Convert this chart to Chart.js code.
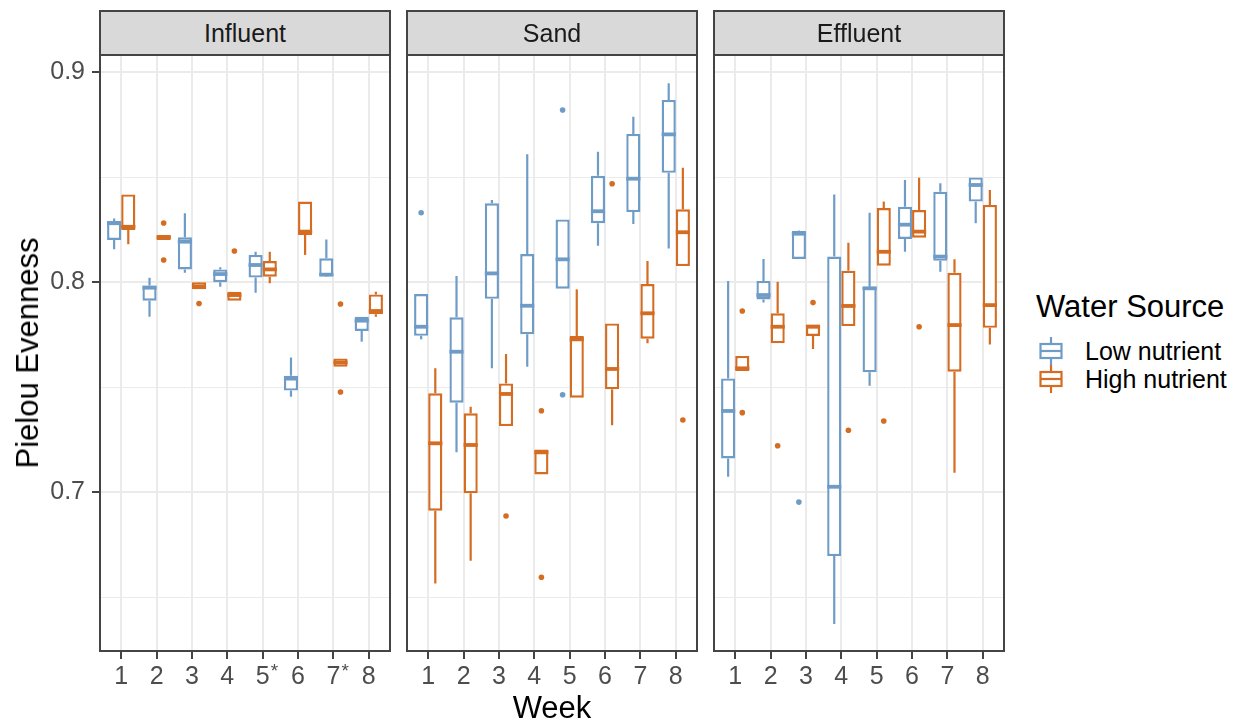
<!DOCTYPE html>
<html>
<head>
<meta charset="utf-8">
<script src="https://cdn.jsdelivr.net/npm/chart.js@4.4.1/dist/chart.umd.min.js"></script>
<style>
  body { margin: 0; background: #fff; }
  #wrap { position: relative; width: 1241px; height: 721px; font-family: "Liberation Sans", Arial, sans-serif; }
  canvas { position: absolute; top: 0; }
  .strip { position: absolute; top: 10px; height: 46px; box-sizing: border-box; border: 2px solid #444;
           background: #D9D9D9; color: #1A1A1A; font-size: 25px; line-height: 42px; text-align: center; }
  .lbl { position: absolute; white-space: nowrap; color: #000; }
</style>
</head>
<body>
<div id="wrap">
  <canvas id="cInfluent" width="392" height="721" style="left:0px"></canvas>
  <canvas id="cSand" width="294" height="721" style="left:405px"></canvas>
  <canvas id="cEffluent" width="294" height="721" style="left:712px"></canvas>

  <div class="strip" style="left:99px; width:292px">Influent</div>
  <div class="strip" style="left:406px; width:292px">Sand</div>
  <div class="strip" style="left:713px; width:292px">Effluent</div>

  <div class="lbl" style="left:28px; top:353px; font-size:31px; transform:translate(-50%,-50%) rotate(-90deg)">Pielou Evenness</div>
  <div class="lbl" style="left:552px; top:692px; font-size:31px; line-height:31px; transform:translateX(-50%)">Week</div>

  <!-- legend -->
  <div class="lbl" style="left:1036px; top:291px; font-size:31px; line-height:31px">Water Source</div>
  <svg style="position:absolute; left:1036px; top:337px" width="30" height="28">
    <g stroke="#6F9CC7" stroke-width="2.2" fill="#fff">
      <line x1="15" y1="0" x2="15" y2="7"/><line x1="15" y1="21" x2="15" y2="28"/>
      <rect x="4.5" y="7" width="21" height="14"/><line x1="4.5" y1="14" x2="25.5" y2="14"/>
    </g>
  </svg>
  <svg style="position:absolute; left:1036px; top:365px" width="30" height="28">
    <g stroke="#D46C22" stroke-width="2.2" fill="#fff">
      <line x1="15" y1="0" x2="15" y2="7"/><line x1="15" y1="21" x2="15" y2="28"/>
      <rect x="4.5" y="7" width="21" height="14"/><line x1="4.5" y1="14" x2="25.5" y2="14"/>
    </g>
  </svg>
  <div class="lbl" style="left:1085px; top:339px; font-size:25px; line-height:25px">Low nutrient</div>
  <div class="lbl" style="left:1085px; top:367px; font-size:25px; line-height:25px">High nutrient</div>
</div>

<script>
// weeks on the x axis; weeks 5 and 7 of the influent panel carry an asterisk
const weeks = [1, 2, 3, 4, 5, 6, 7, 8]
const influentStarred = [5, 7]

// box stats per week: [lower whisker, q1, median, q3, upper whisker]
const influentLow = [
  [0.8156, 0.8200, 0.8280, 0.8290, 0.8303],
  [0.7835, 0.7911, 0.7973, 0.7983, 0.8020],
  [0.8044, 0.8060, 0.8192, 0.8213, 0.8327],
  [0.7978, 0.7999, 0.8038, 0.8060, 0.8070],
  [0.7949, 0.8021, 0.8081, 0.8129, 0.8144],
  [0.7454, 0.7483, 0.7540, 0.7554, 0.7641],
  [0.8025, 0.8027, 0.8035, 0.8113, 0.8203],
  [0.7716, 0.7767, 0.7816, 0.7835, 0.7835],
]
const influentHigh = [
  [0.8180, 0.8248, 0.8263, 0.8417, 0.8417],
  [0.8200, 0.8200, 0.8213, 0.8224, 0.8224],
  [0.7965, 0.7965, 0.7978, 0.7999, 0.8000],
  [0.7911, 0.7911, 0.7938, 0.7954, 0.7954],
  [0.7994, 0.8025, 0.8060, 0.8100, 0.8144],
  [0.8129, 0.8224, 0.8240, 0.8383, 0.8383],
  [0.7597, 0.7597, 0.7617, 0.7636, 0.7636],
  [0.7835, 0.7846, 0.7862, 0.7941, 0.7954],
]
const sandLow = [
  [0.7727, 0.7744, 0.7787, 0.7943, 0.7943],
  [0.7189, 0.7425, 0.7668, 0.7832, 0.8029],
  [0.7589, 0.7920, 0.8041, 0.8375, 0.8390],
  [0.7597, 0.7751, 0.7887, 0.8133, 0.8608],
  [0.7968, 0.7968, 0.8108, 0.8298, 0.8298],
  [0.8173, 0.8280, 0.8337, 0.8506, 0.8620],
  [0.8276, 0.8333, 0.8492, 0.8705, 0.8787],
  [0.8160, 0.8520, 0.8703, 0.8867, 0.8946],
]
const sandHigh = [
  [0.6565, 0.6911, 0.7232, 0.7470, 0.7589],
  [0.6673, 0.6994, 0.7224, 0.7375, 0.7406],
  [0.7314, 0.7314, 0.7467, 0.7517, 0.7657],
  [0.7084, 0.7084, 0.7189, 0.7203, 0.7203],
  [0.7449, 0.7449, 0.7727, 0.7743, 0.7965],
  [0.7318, 0.7489, 0.7586, 0.7803, 0.7803],
  [0.7708, 0.7730, 0.7851, 0.7990, 0.8100],
  [0.8076, 0.8076, 0.8237, 0.8346, 0.8544],
]
const effluentLow = [
  [0.7073, 0.7160, 0.7386, 0.7541, 0.8005],
  [0.7903, 0.7917, 0.7938, 0.8005, 0.8110],
  [0.8110, 0.8110, 0.8230, 0.8243, 0.8245],
  [0.6371, 0.6695, 0.7025, 0.8121, 0.8417],
  [0.7506, 0.7570, 0.7970, 0.7978, 0.8330],
  [0.8144, 0.8205, 0.8273, 0.8359, 0.8486],
  [0.8049, 0.8101, 0.8121, 0.8430, 0.8470],
  [0.8280, 0.8383, 0.8462, 0.8498, 0.8498],
]
const effluentHigh = [
  [0.7576, 0.7576, 0.7589, 0.7648, 0.7648],
  [0.7708, 0.7708, 0.7787, 0.7851, 0.8001],
  [0.7681, 0.7743, 0.7787, 0.7798, 0.7798],
  [0.7790, 0.7790, 0.7886, 0.8054, 0.8187],
  [0.8078, 0.8078, 0.8144, 0.8352, 0.8383],
  [0.8211, 0.8211, 0.8240, 0.8343, 0.8497],
  [0.7092, 0.7573, 0.7795, 0.8044, 0.8108],
  [0.7703, 0.7782, 0.7890, 0.8367, 0.8438],
]

// outliers per week
const influentLowOut = [[], [], [], [], [], [], [], []]
const influentHighOut = [[], [0.8281, 0.8105], [0.7898], [0.8148], [], [], [0.7895, 0.7476], []]
const sandLowOut = [[0.8330], [], [], [], [0.8819, 0.7463], [], [], []]
const sandHighOut = [[], [], [0.6886], [0.7387, 0.6594], [], [0.8468], [], [0.7343]]
const effluentLowOut = [[], [], [0.6952], [], [], [], [], []]
const effluentHighOut = [[0.7862, 0.7378], [0.7220], [0.7902], [0.7294], [0.7338], [0.7787], [], []]

const LOW_COLOR = "#6F9CC7"
const HIGH_COLOR = "#D46C22"
const Y_MIN = 0.6243
const Y_MAX = 0.9081

const isMajor = (v) => Math.abs(v * 10 - Math.round(v * 10)) < 1e-6

// whiskers, medians and outlier points, placed with the chart's scales
const boxPlugin = {
  id: "boxParts",
  afterDatasetsDraw(chart) {
    const ctx = chart.ctx
    const y = chart.scales.y
    chart.data.datasets.forEach((ds, di) => {
      const meta = chart.getDatasetMeta(di)
      meta.data.forEach((bar, i) => {
        const s = ds.stats[i]
        const half = bar.width / 2
        ctx.save()
        ctx.strokeStyle = ds.borderColor
        ctx.lineWidth = 2.2
        ctx.beginPath()
        ctx.moveTo(bar.x, y.getPixelForValue(s[3]))
        ctx.lineTo(bar.x, y.getPixelForValue(s[4]))
        ctx.moveTo(bar.x, y.getPixelForValue(s[1]))
        ctx.lineTo(bar.x, y.getPixelForValue(s[0]))
        ctx.stroke()
        // median
        ctx.lineWidth = 3.8
        ctx.beginPath()
        const ym = y.getPixelForValue(s[2])
        ctx.moveTo(bar.x - half, ym)
        ctx.lineTo(bar.x + half, ym)
        ctx.stroke()
        // outliers
        ctx.fillStyle = ds.borderColor
        ds.outliers[i].forEach((v) => {
          ctx.beginPath()
          ctx.arc(bar.x, y.getPixelForValue(v), 2.8, 0, Math.PI * 2)
          ctx.fill()
        })
        ctx.restore()
      })
    })
  },
  afterDraw(chart) {
    const a = chart.chartArea
    const ctx = chart.ctx
    ctx.save()
    ctx.strokeStyle = "#444"
    ctx.lineWidth = 2
    ctx.strokeRect(a.left, a.top, a.right - a.left, a.bottom - a.top)
    // superscript asterisks next to some week labels
    const starred = chart.options.starred || []
    ctx.fillStyle = "#4D4D4D"
    ctx.font = "19px 'Liberation Sans', Arial, sans-serif"
    ctx.textAlign = "left"
    starred.forEach((w) => {
      ctx.fillText("*", chart.scales.x.getPixelForValue(w) + 8, 677)
    })
    ctx.restore()
  },
}

function makePanel(id, low, high, lowOut, highOut, showY, starred) {
  const first = showY
  new Chart(document.getElementById(id), {
    type: "bar",
    data: {
      datasets: [
        {
          label: "Low nutrient",
          data: low.map((s, i) => ({ x: weeks[i], y: [s[1], s[3]] })),
          stats: low,
          outliers: lowOut,
          backgroundColor: "#fff",
          borderColor: LOW_COLOR,
          borderWidth: 2.4,
          borderSkipped: false,
        },
        {
          label: "High nutrient",
          data: high.map((s, i) => ({ x: weeks[i], y: [s[1], s[3]] })),
          stats: high,
          outliers: highOut,
          backgroundColor: "#fff",
          borderColor: HIGH_COLOR,
          borderWidth: 2.4,
          borderSkipped: false,
        },
      ],
    },
    options: {
      responsive: false,
      animation: false,
      starred: starred,
      categoryPercentage: 0.8,
      barPercentage: 1.0,
      layout: { padding: { top: 55, bottom: 0, left: first ? 0 : 2, right: 2 } },
      plugins: { legend: { display: false }, tooltip: { enabled: false } },
      scales: {
        x: {
          type: "linear",
          min: 0.4,
          max: 8.6,
          offset: false,
          afterFit: (scale) => { scale.height = 70 },
          border: { display: false },
          grid: {
            offset: false,
            color: "#EBEBEB",
            lineWidth: 2,
            tickColor: "#444",
            tickWidth: 2,
            tickLength: 8,
          },
          ticks: {
            stepSize: 1,
            includeBounds: false,
            autoSkip: false,
            maxRotation: 0,
            padding: 3,
            color: "#4D4D4D",
            font: { size: 25, family: "'Liberation Sans', Arial, sans-serif" },
            callback: (v) => String(v),
          },
        },
        y: {
          min: Y_MIN,
          max: Y_MAX,
          afterFit: (scale) => { scale.width = first ? 100 : 0 },
          border: { display: false },
          grid: {
            color: "#EBEBEB",
            lineWidth: (c) => (isMajor(c.tick.value) ? 2 : 1),
            drawTicks: first,
            tickLength: 8,
            tickWidth: 2,
            tickColor: (c) => (isMajor(c.tick.value) ? "#444" : "rgba(0,0,0,0)"),
          },
          ticks: {
            display: first,
            stepSize: 0.05,
            includeBounds: false,
            padding: 7,
            color: "#4D4D4D",
            font: { size: 25, family: "'Liberation Sans', Arial, sans-serif" },
            callback: (v) => (isMajor(v) ? v.toFixed(1) : ""),
          },
        },
      },
    },
    plugins: [boxPlugin],
  })
}

makePanel("cInfluent", influentLow, influentHigh, influentLowOut, influentHighOut, true, influentStarred)
makePanel("cSand", sandLow, sandHigh, sandLowOut, sandHighOut, false, [])
makePanel("cEffluent", effluentLow, effluentHigh, effluentLowOut, effluentHighOut, false, [])
</script>
</body>
</html>
